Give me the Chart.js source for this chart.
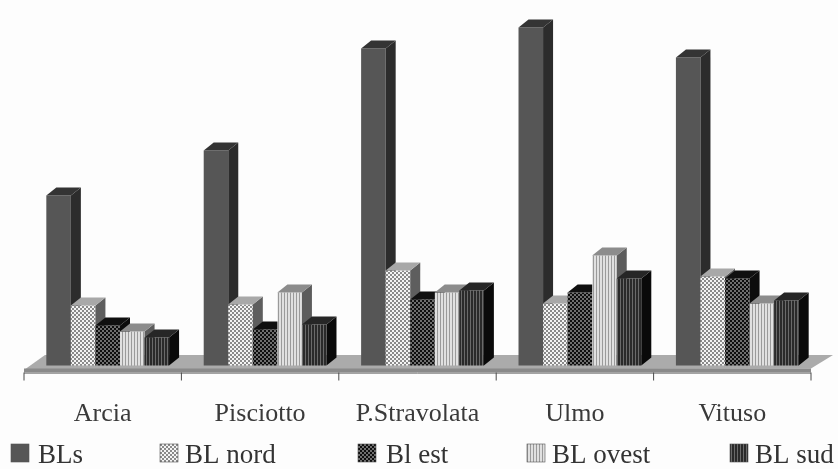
<!DOCTYPE html>
<html>
<head>
<meta charset="utf-8">
<script src="https://cdn.jsdelivr.net/npm/chart.js@4"></script>
<style>
html, body { margin: 0; padding: 0; background: #fdfdfd; }
#wrap { width: 838px; height: 469px; }
canvas { filter: blur(0.6px); }
</style>
</head>
<body>
<div id="wrap"><canvas id="chart" width="838" height="469"></canvas></div>
<script>
// values (no axis printed, so units are arbitrary)
const categories = ['Arcia', 'Pisciotto', 'P.Stravolata', 'Ulmo', 'Vituso'];
const seriesNames = ['BLs', 'BL nord', 'Bl est', 'BL ovest', 'BL sud'];
const bls = [170, 215, 317, 338, 308];
const blNord = [60, 61, 95, 62, 89];
const blEst = [40, 36, 66, 73, 87];
const blOvest = [34, 73, 73, 110, 62];
const blSud = [28, 41, 75, 87, 65];

const sideColors = ['#2c2c2c', '#5e5e5e', '#0c0c0c', '#5c5c5c', '#0a0a0a'];
const topColors = ['#343434', '#a8a8a8', '#101010', '#8c8c8c', '#262626'];
const legendX = [11, 160, 358, 527, 730];
const legendTextX = [38, 185, 386, 552, 755];

const DEPTH_X = 10, DEPTH_Y = 8, SHIFT = 5;

function dots(bg, fg) {
    const c = document.createElement('canvas');
    c.width = 4; c.height = 4;
    const g = c.getContext('2d');
    g.fillStyle = bg; g.fillRect(0, 0, 4, 4);
    g.fillStyle = fg;
    g.fillRect(0, 0, 2, 2);
    g.fillRect(2, 2, 2, 2);
    return g.createPattern(c, 'repeat');
}

function stripes(bg, fg) {
    const c = document.createElement('canvas');
    c.width = 3; c.height = 3;
    const g = c.getContext('2d');
    g.fillStyle = bg; g.fillRect(0, 0, 3, 3);
    g.fillStyle = fg; g.fillRect(2, 0, 1, 3);
    return g.createPattern(c, 'repeat');
}

const fills = [
    '#565656',
    dots('#f4f4f4', '#8a8a8a'),
    dots('#0e0e0e', '#6e6e6e'),
    stripes('#e0e0e0', '#9a9a9a'),
    stripes('#2a2a2a', '#6a6a6a')
];

// floor, axis line and ticks under the bars
const floorPlugin = {
    id: 'floor',
    beforeDatasetsDraw(chart) {
        const { ctx, scales: { x } } = chart;
        const left = x.left - SHIFT, right = x.right - SHIFT, base = x.top;
        ctx.save();
        ctx.fillStyle = '#ababab';
        ctx.beginPath();
        ctx.moveTo(left + 21, base - 10.5);
        ctx.lineTo(right + 22, base - 10.5);
        ctx.lineTo(right, base + 3);
        ctx.lineTo(left, base + 4.5);
        ctx.closePath();
        ctx.fill();
        ctx.fillStyle = '#8a8a8a';
        ctx.fillRect(left, base + 3, right - left, 3.5);
        ctx.strokeStyle = '#4a4a4a';
        ctx.lineWidth = 1;
        ctx.beginPath();
        ctx.moveTo(left, base + 7.5);
        ctx.lineTo(right, base + 7.5);
        const step = (right - left) / categories.length;
        for (let i = 0; i <= categories.length; i++) {
            ctx.moveTo(left + i * step, base + 7);
            ctx.lineTo(left + i * step, base + 15);
        }
        ctx.stroke();
        ctx.restore();
    }
};

// chart.js paints the first dataset last, the 3D look needs it the other way
// round so each series covers the side face of the one before
const depthPlugin = {
    id: 'depth',
    beforeDatasetDraw() {
        return false;
    },
    afterDatasetsDraw(chart) {
        const ctx = chart.ctx;
        ctx.save();
        seriesNames.forEach((name, i) => {
            chart.getDatasetMeta(i).data.forEach(bar => {
                bar.draw(ctx);
                const r = bar.x + bar.width / 2, l = bar.x - bar.width / 2;
                ctx.fillStyle = sideColors[i];
                ctx.beginPath();
                ctx.moveTo(r, bar.y);
                ctx.lineTo(r + DEPTH_X, bar.y - DEPTH_Y);
                ctx.lineTo(r + DEPTH_X, bar.base - DEPTH_Y);
                ctx.lineTo(r, bar.base);
                ctx.closePath();
                ctx.fill();
                ctx.fillStyle = topColors[i];
                ctx.beginPath();
                ctx.moveTo(l, bar.y);
                ctx.lineTo(l + DEPTH_X, bar.y - DEPTH_Y);
                ctx.lineTo(r + DEPTH_X, bar.y - DEPTH_Y);
                ctx.lineTo(r, bar.y);
                ctx.closePath();
                ctx.fill();
            });
        });
        ctx.restore();
    }
};

// legend gaps in the picture don't fit the built-in legend's wrapping
const legendPlugin = {
    id: 'bottomLegend',
    afterDraw(chart) {
        const ctx = chart.ctx;
        ctx.save();
        ctx.font = '27px "Liberation Serif"';
        ctx.textBaseline = 'alphabetic';
        seriesNames.forEach((name, i) => {
            ctx.fillStyle = fills[i];
            ctx.fillRect(legendX[i], 444, 18, 18);
            ctx.strokeStyle = '#555';
            ctx.lineWidth = 0.6;
            ctx.strokeRect(legendX[i], 444, 18, 18);
            ctx.fillStyle = '#333';
            ctx.fillText(name, legendTextX[i], 463);
        });
        ctx.restore();
    }
};

const seriesValues = [bls, blNord, blEst, blOvest, blSud];

new Chart(document.getElementById('chart'), {
    type: 'bar',
    data: {
        labels: categories,
        datasets: seriesNames.map((name, i) => ({
            label: name,
            data: seriesValues[i],
            backgroundColor: fills[i],
            borderWidth: 0
        }))
    },
    options: {
        responsive: false,
        animation: false,
        layout: { padding: { left: 29, right: 22, top: 10, bottom: 0 } },
        plugins: { legend: { display: false }, tooltip: { enabled: false } },
        datasets: { bar: { categoryPercentage: 0.78, barPercentage: 1 } },
        scales: {
            x: {
                afterFit: s => { s.height = 103.5; },
                grid: { display: false, drawTicks: false },
                border: { display: false },
                ticks: {
                    autoSkip: false,
                    maxRotation: 0,
                    labelOffset: -SHIFT,
                    padding: 33,
                    color: '#3a3a3a',
                    font: { family: '"Liberation Serif"', size: 26 }
                }
            },
            y: { display: false, min: 0, max: 355.5 }
        }
    },
    plugins: [floorPlugin, depthPlugin, legendPlugin]
});
</script>
</body>
</html>
